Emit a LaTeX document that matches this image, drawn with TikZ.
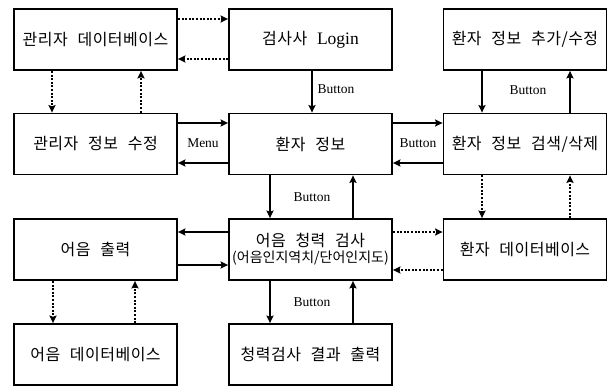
\documentclass[tikz,border=0pt]{standalone}
\usepackage{fontspec}
\setmainfont{Liberation Serif}
\newfontfamily\kr[WordSpace=2.4,LetterSpace=3]{Noto Sans CJK KR}
\newfontfamily\krsmall{Noto Sans CJK KR}
\usetikzlibrary{arrows.meta}
\begin{document}
\begin{tikzpicture}[x=1pt,y=-1pt,
  box/.style={draw,line width=1.8pt,minimum width=163pt,minimum height=61pt,
    inner sep=0pt,align=center,font=\kr\fontsize{16}{19}\selectfont},
  flow/.style={line width=1.8pt,-{Stealth[length=7.5pt,width=7pt,inset=1.2pt]}},
  dataflow/.style={flow,dash pattern=on 2pt off 1.6pt},
  lbl/.style={inner sep=0pt,font=\rmfamily\fontsize{13.5}{15}\selectfont}]
\useasboundingbox (0,0) rectangle (611,388);

% column centres: 95.5, 310.5, 525 ; row centres: 39.5, 144, 249.5, 354.5
\node[box] (admindb)   at (95.5,39.5)  {관리자 데이터베이스};
\node[box] (login)     at (310.5,39.5) {검사사 {\rmfamily\fontsize{17.5}{19}\selectfont Login}};
\node[box] (addedit)   at (525,39.5)   {환자 정보 추가/수정};
\node[box] (adminedit) at (95.5,144)   {관리자 정보 수정};
\node[box] (patient)   at (310.5,144)  {환자 정보};
\node[box] (search)    at (525,144)    {환자 정보 검색/삭제};
\node[box] (speechout) at (95.5,249.5) {어음 출력};
\node[box] (hearing)   at (310.5,249.5) {};
\node[inner sep=0pt,font=\kr\fontsize{16}{19}\selectfont] (htitle) at (310.5,240) {어음 청력 검사};
\node[inner sep=0pt,font=\krsmall\fontsize{14}{16}\selectfont] (hsub) at (310.5,258) {(어음인지역치/단어인지도)};
\node[box] (patientdb) at (525,249.5)  {환자 데이터베이스};
\node[box] (speechdb)  at (95.5,354.5) {어음 데이터베이스};
\node[box] (result)    at (310.5,354.5) {청력검사 결과 출력};

% top row
\draw[dataflow] ([yshift=20.5pt]admindb.east) -- ([yshift=20.5pt]login.west);
\draw[dataflow] ([yshift=-19.5pt]login.west) -- ([yshift=-19.5pt]admindb.east);
\draw[dataflow] ([xshift=-43.5pt]admindb.south) -- ([xshift=-43.5pt]adminedit.north);
\draw[dataflow] ([xshift=45.5pt]adminedit.north) -- ([xshift=45.5pt]admindb.south);
\draw[flow] ([xshift=1.5pt]login.south) -- ([xshift=1.5pt]patient.north);
\node[lbl] (b1) at (336,89) {Button};
\draw[flow] ([xshift=-43pt]addedit.south) -- ([xshift=-43pt]search.north);
\draw[flow] ([xshift=45pt]search.north) -- ([xshift=45pt]addedit.south);
\node[lbl] (b2) at (528,90) {Button};

% middle row
\draw[flow] ([yshift=21pt]adminedit.east) -- ([yshift=21pt]patient.west);
\draw[flow] ([yshift=-19pt]patient.west) -- ([yshift=-19pt]adminedit.east);
\node[lbl] (menu) at (203,143) {Menu};
\draw[flow] ([yshift=21pt]patient.east) -- ([yshift=21pt]search.west);
\draw[flow] ([yshift=-19pt]search.west) -- ([yshift=-19pt]patient.east);
\node[lbl] (b3) at (418,143) {Button};
\draw[dataflow] ([xshift=-43pt]search.south) -- ([xshift=-43pt]patientdb.north);
\draw[dataflow] ([xshift=45pt]patientdb.north) -- ([xshift=45pt]search.south);
\draw[flow] ([xshift=-40.5pt]patient.south) -- ([xshift=-40.5pt]hearing.north);
\draw[flow] ([xshift=42.5pt]hearing.north) -- ([xshift=42.5pt]patient.south);
\node[lbl] (b4) at (312,197) {Button};

% third row
\draw[flow] ([yshift=17.5pt]hearing.west) -- ([yshift=17.5pt]speechout.east);
\draw[flow] ([yshift=-15.5pt]speechout.east) -- ([yshift=-15.5pt]hearing.west);
\draw[dataflow] ([yshift=17.5pt]hearing.east) -- ([yshift=17.5pt]patientdb.west);
\draw[dataflow] ([yshift=-20.5pt]patientdb.west) -- ([yshift=-20.5pt]hearing.east);
\draw[dataflow] ([xshift=-42.5pt]speechout.south) -- ([xshift=-42.5pt]speechdb.north);
\draw[dataflow] ([xshift=39.5pt]speechdb.north) -- ([xshift=39.5pt]speechout.south);
\draw[flow] ([xshift=-40.5pt]hearing.south) -- ([xshift=-40.5pt]result.north);
\draw[flow] ([xshift=42.5pt]result.north) -- ([xshift=42.5pt]hearing.south);
\node[lbl] (b5) at (312,302) {Button};
\end{tikzpicture}
\end{document}
